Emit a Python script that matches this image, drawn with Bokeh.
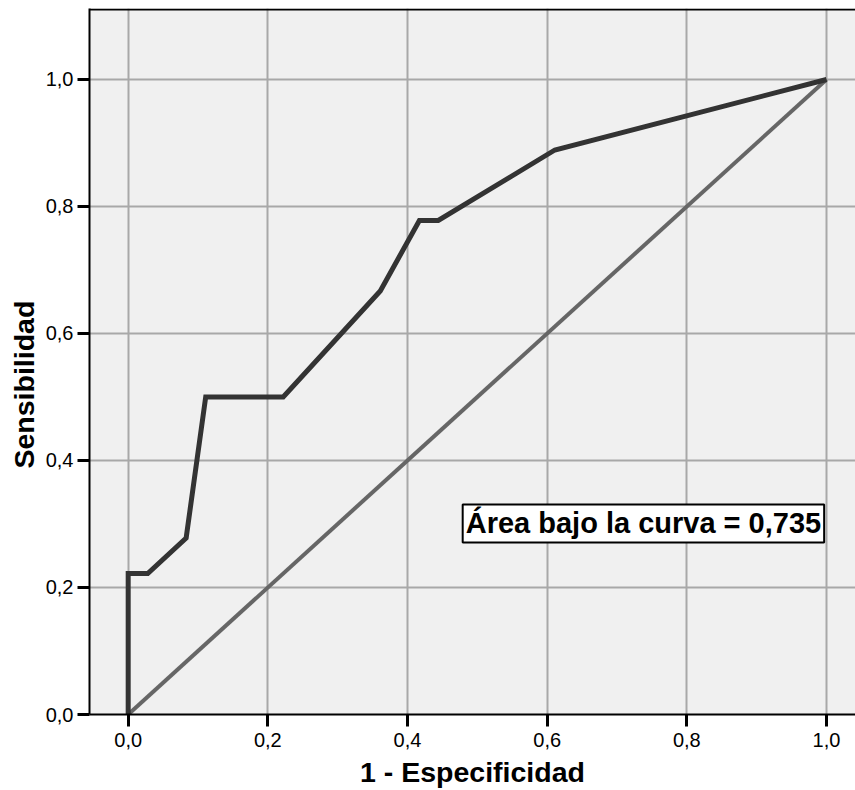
from bokeh.plotting import figure
from bokeh.models import FixedTicker, Span, Label, Range1d, Title
from bokeh.embed import file_html
from bokeh.resources import INLINE

# ROC curve data
fpr = [0.0, 0.0, 0.028, 0.083, 0.111, 0.222, 0.361, 0.417, 0.444, 0.611, 1.0]
tpr = [0.0, 0.222, 0.222, 0.278, 0.5, 0.5, 0.667, 0.778, 0.778, 0.889, 1.0]
ref_x = [0.0, 1.0]
ref_y = [0.0, 1.0]
ticks = [0.0, 0.2, 0.4, 0.6, 0.8, 1.0]
tick_labels = ["0,0", "0,2", "0,4", "0,6", "0,8", "1,0"]
x_title = "1 - Especificidad"
y_title = "Sensibilidad"
auc_text = "Área bajo la curva = 0,735"

FONT = "Liberation Sans"

p = figure(width=855, height=790, output_backend="svg", toolbar_location=None,
           x_range=Range1d(-0.0554, 1.0415), y_range=Range1d(0.0, 1.1118),
           min_border_left=89, min_border_right=0, min_border_top=8, min_border_bottom=76)

p.background_fill_color = "#f0f0f0"
p.border_fill_color = "white"
p.outline_line_color = None

for ax in (p.xaxis[0], p.yaxis[0]):
    ax.ticker = FixedTicker(ticks=ticks)
    ax.major_label_overrides = {t: l for t, l in zip(ticks, tick_labels)}
    ax.axis_line_color = "black"
    ax.axis_line_width = 2
    ax.major_tick_line_color = "black"
    ax.major_tick_line_width = 3
    ax.major_tick_out = 12
    ax.major_tick_in = 0
    ax.minor_tick_line_color = None
    ax.major_label_text_font = FONT
    ax.major_label_text_font_size = "20px"
    ax.major_label_text_color = "black"
    ax.axis_label_text_font = FONT
    ax.axis_label_text_font_size = "28.5px"
    ax.axis_label_text_font_style = "bold"
    ax.axis_label_text_color = "black"

p.xaxis.axis_label = x_title
p.xaxis.major_label_standoff = 6
p.yaxis.major_label_standoff = 4
p.xaxis.axis_label_standoff = 6

p.add_layout(Title(text=y_title, align="left", offset=246, text_font=FONT,
                   text_font_size="28.5px", text_font_style="bold",
                   text_color="black", standoff=6), "left")

p.xgrid.ticker = FixedTicker(ticks=ticks)
p.ygrid.ticker = FixedTicker(ticks=ticks)
p.grid.grid_line_color = "#a8a8a8"
p.grid.grid_line_width = 2

# top border
p.add_layout(Span(location=1.1102, dimension="width", line_color="black", line_width=2))

p.line(ref_x, ref_y, line_color="#666666", line_width=4)
p.line(fpr, tpr, line_color="#333333", line_width=5, line_join="miter")

lab = Label(x=0.479, y=0.271, text=auc_text, anchor="bottom_left",
            text_font=FONT, text_font_size="29px", text_font_style="bold",
            text_color="black", background_fill_color="white",
            border_line_color="black", border_line_width=2, padding=3)
p.add_layout(lab)

open("out.html", "w").write(file_html(p, INLINE))
